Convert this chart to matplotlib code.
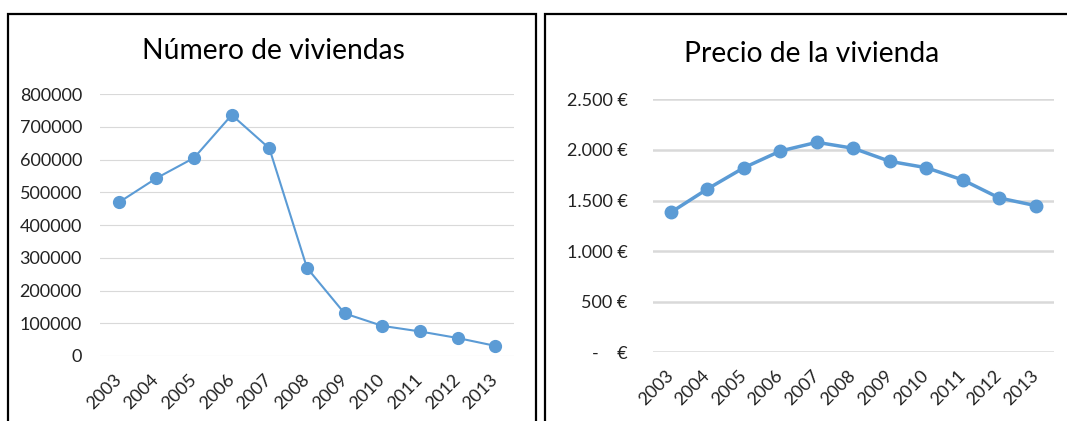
import matplotlib
matplotlib.use("Agg")
import matplotlib.pyplot as plt
from matplotlib.patches import Rectangle

plt.rcParams['font.family'] = ['Lato', 'DejaVu Sans']

# ── data ─────────────────────────────────────────────────────────────────
years = ["2003", "2004", "2005", "2006", "2007", "2008",
         "2009", "2010", "2011", "2012", "2013"]
viviendas = [469000, 543000, 605000, 736000, 634000, 269000,
             130000, 92000, 75000, 55000, 31000]
precio = [1383, 1614, 1824, 1989, 2075, 2016,
          1887, 1824, 1703, 1525, 1449]

viv_ticks = [0, 100000, 200000, 300000, 400000, 500000, 600000, 700000, 800000]
precio_ticks = [0, 500, 1000, 1500, 2000, 2500]
precio_labels = ["-    €", "500 €", "1.000 €", "1.500 €", "2.000 €", "2.500 €"]

blue = "#5B9BD5"
grid_c = "#D9D9D9"
txt_c = "#222222"

W, H = 1067, 421
fig = plt.figure(figsize=(W / 100, H / 100), dpi=100)


def px_axes(x0, x1, y0, y1):
    # pixel box (top-left origin) -> figure fraction axes
    return fig.add_axes([x0 / W, (H - y1) / H, (x1 - x0) / W, (y1 - y0) / H])


def style(ax, glw, ypad):
    for s in ax.spines.values():
        s.set_visible(False)
    ax.set_xlim(-0.5, len(years) - 0.5)
    ax.set_xticks(range(len(years)))
    ax.set_xticklabels(years, rotation=45, ha="right", va="center",
                       rotation_mode="anchor", fontsize=13, color=txt_c)
    ax.tick_params(axis="x", length=0, pad=15)
    ax.tick_params(axis="y", length=0, pad=ypad, labelsize=13, labelcolor=txt_c)
    ax.grid(True, axis="y", color=grid_c, lw=glw)
    ax.set_axisbelow(True)


# ── left: número de viviendas ────────────────────────────────────────────
ax1 = px_axes(100, 514, 94, 356)
x = list(range(len(years)))
ax1.plot(x, viviendas, "-o", color=blue, lw=1.5, ms=8.5, clip_on=False)
ax1.set_ylim(0, 800000)
ax1.set_yticks(viv_ticks)
ax1.set_yticklabels([str(v) for v in viv_ticks])
style(ax1, 0.8, 13)
fig.text(273.5 / W, (H - 58.7) / H, "Número de viviendas", ha="center",
         va="baseline", fontsize=20.3, color="black")

# ── right: precio de la vivienda ─────────────────────────────────────────
ax2 = px_axes(652.7, 1054, 99.3, 352.3)
ax2.plot(x, precio, "-o", color=blue, lw=2.5, ms=9, clip_on=False)
ax2.set_ylim(0, 2500)
ax2.set_yticks(precio_ticks)
ax2.set_yticklabels(precio_labels)
style(ax2, 1.8, 18)
fig.text(811.8 / W, (H - 62) / H, "Precio de la vivienda", ha="center",
         va="baseline", fontsize=20.3, color="black")

# ── panel borders ────────────────────────────────────────────────────────
fig.add_artist(Rectangle((8.3 / W, -0.1), (536 - 8.3) / W, (H - 13.5) / H + 0.1,
                         transform=fig.transFigure, fill=False, ec="black",
                         lw=1.6, clip_on=False))
fig.add_artist(Rectangle((545 / W, -0.1), 0.6, (H - 13.8) / H + 0.1,
                         transform=fig.transFigure, fill=False, ec="black",
                         lw=1.6, clip_on=False))

fig.savefig("out.png", dpi=100)
